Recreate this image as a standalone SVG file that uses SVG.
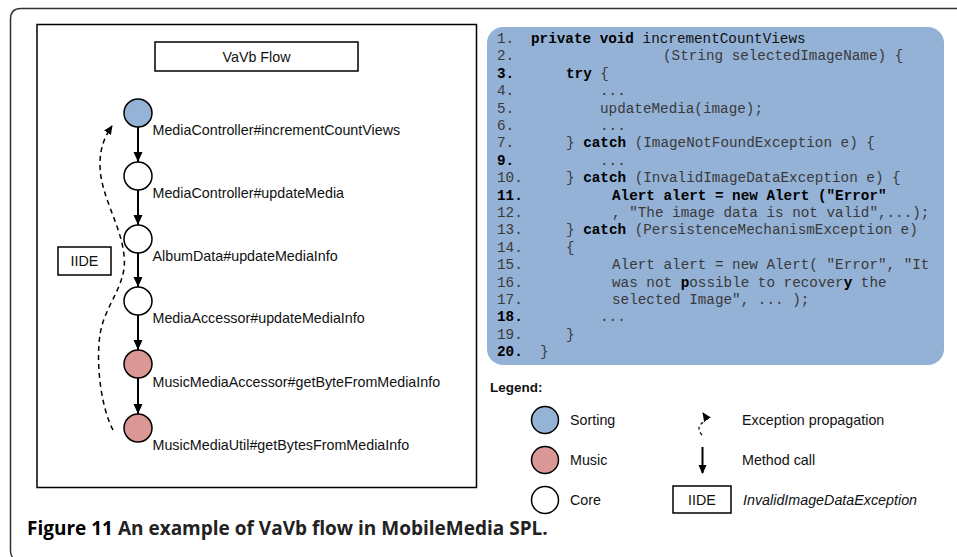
<svg xmlns="http://www.w3.org/2000/svg" width="957" height="557" viewBox="0 0 957 557">
<defs>
<style>
.lbl{font-family:"Liberation Sans",Arial,sans-serif;font-size:14.3px;fill:#111}
.code{font-family:"Liberation Mono","Courier New",monospace;font-size:14.3px;fill:#3a3a3a}
.b{font-weight:bold;fill:#000}
.node{stroke:#000;stroke-width:1.5}
.sort{fill:#95b3d7}
.music{fill:#d99795}
.core{fill:#fff}
.call{stroke:#000;stroke-width:2;fill:none}
.exc{stroke:#000;stroke-width:1.5;fill:none;stroke-dasharray:5,4}
.box{fill:#fff;stroke:#000;stroke-width:1.5}
</style>
<marker id="ah" viewBox="0 0 10 10" markerWidth="10" markerHeight="10" refX="10" refY="5" orient="auto" markerUnits="userSpaceOnUse"><path d="M0,0.5 L10,5 L0,9.5 z" fill="#000"/></marker>
<marker id="ah2" viewBox="0 0 10 10" markerWidth="9" markerHeight="9" refX="9" refY="5" orient="auto" markerUnits="userSpaceOnUse"><path d="M0,0.5 L10,5 L0,9.5 z" fill="#000"/></marker>
</defs>
<rect width="957" height="557" fill="#fff"/>
<path d="M957,8.5 H21 Q10.5,8.5 10.5,19 V550 Q10.5,555 12.5,557" fill="none" stroke="#333" stroke-width="1.5"/>

<!-- Left flow panel -->
<rect x="37" y="24.5" width="439.5" height="463" fill="#fff" stroke="#000" stroke-width="1.5"/>
<g id="title">
<rect class="box" x="155" y="42" width="203" height="29"/>
<text class="lbl" x="256.5" y="61.5" text-anchor="middle">VaVb Flow</text>
</g>

<g id="connectors">
<line class="call" x1="138" y1="127" x2="138" y2="162" marker-end="url(#ah)"/>
<line class="call" x1="138" y1="190" x2="138" y2="225" marker-end="url(#ah)"/>
<line class="call" x1="138" y1="253" x2="138" y2="287" marker-end="url(#ah)"/>
<line class="call" x1="138" y1="315" x2="138" y2="350" marker-end="url(#ah)"/>
<line class="call" x1="138" y1="378" x2="138" y2="414" marker-end="url(#ah)"/>
<path class="exc" d="M113,430 C100,405 96,360 100,335 C104,305 128,285 124,255 C121,225 100,195 100,165 C100,148 104,138 112,126" marker-end="url(#ah2)"/>
</g>

<g id="n1"><circle class="node sort" cx="138" cy="113" r="14"/><text class="lbl" x="152.5" y="135">MediaController#incrementCountViews</text></g>
<g id="n2"><circle class="node core" cx="138" cy="176" r="14"/><text class="lbl" x="152.5" y="198">MediaController#updateMedia</text></g>
<g id="n3"><circle class="node core" cx="138" cy="239" r="14"/><text class="lbl" x="152.5" y="261">AlbumData#updateMediaInfo</text></g>
<g id="n4"><circle class="node core" cx="138" cy="301" r="14"/><text class="lbl" x="152.5" y="323">MediaAccessor#updateMediaInfo</text></g>
<g id="n5"><circle class="node music" cx="138" cy="364" r="14"/><text class="lbl" x="152.5" y="386.5">MusicMediaAccessor#getByteFromMediaInfo</text></g>
<g id="n6"><circle class="node music" cx="138" cy="428" r="14"/><text class="lbl" x="152.5" y="450">MusicMediaUtil#getBytesFromMediaInfo</text></g>

<g id="iide"><rect class="box" x="58" y="247" width="53" height="28"/><text class="lbl" x="84.5" y="266" text-anchor="middle">IIDE</text></g>

<!-- Code panel -->
<g id="code">
<rect x="487" y="27" width="457" height="338" rx="16" ry="16" fill="#94b1d6"/>
<text class="code" x="497" y="43">1.</text><text class="code" x="531" y="43"><tspan class="b">private void</tspan> <tspan fill="#111">incrementCountViews</tspan></text>
<text class="code" x="497" y="60.4">2.</text><text class="code" x="663" y="60.4">(String selectedImageName) {</text>
<text class="code b" x="497" y="77.8">3.</text><text class="code" x="566" y="77.8"><tspan class="b">try</tspan> {</text>
<text class="code" x="497" y="95.2">4.</text><text class="code" x="600" y="95.2">...</text>
<text class="code" x="497" y="112.6">5.</text><text class="code" x="600" y="112.6">updateMedia(image);</text>
<text class="code" x="497" y="130">6.</text><text class="code" x="600" y="130">...</text>
<text class="code" x="497" y="147.3">7.</text><text class="code" x="566" y="147.3">} <tspan class="b">catch</tspan> (ImageNotFoundException e) {</text>
<text class="code b" x="497" y="164.7">9.</text><text class="code" x="600" y="164.7">...</text>
<text class="code" x="497" y="182.1">10.</text><text class="code" x="566" y="182.1">} <tspan class="b">catch</tspan> (InvalidImageDataException e) {</text>
<text class="code b" x="497" y="199.5">11.</text><text class="code b" x="612" y="199.5">Alert alert = new Alert ("Error"</text>
<text class="code" x="497" y="216.9">12.</text><text class="code" x="612" y="216.9">, "The image data is not valid",...);</text>
<text class="code" x="497" y="234.3">13.</text><text class="code" x="566" y="234.3">} <tspan class="b">catch</tspan> (PersistenceMechanismException e)</text>
<text class="code" x="497" y="251.7">14.</text><text class="code" x="566" y="251.7">{</text>
<text class="code" x="497" y="269.1">15.</text><text class="code" x="612" y="269.1">Alert alert = new Alert( "Error", "It</text>
<text class="code" x="497" y="286.5">16.</text><text class="code" x="612" y="286.5">was not <tspan class="b">p</tspan>ossible to recover<tspan class="b">y</tspan> the</text>
<text class="code" x="497" y="303.9">17.</text><text class="code" x="612" y="303.9">selected Image", ... );</text>
<text class="code b" x="497" y="321.2">18.</text><text class="code" x="600" y="321.2">...</text>
<text class="code" x="497" y="338.6">19.</text><text class="code" x="566" y="338.6">}</text>
<text class="code b" x="497" y="356">20.</text><text class="code" x="540" y="356">}</text>
</g>

<!-- Legend -->
<g id="legend">
<text class="lbl" x="490" y="392" style="font-weight:bold;font-size:13.5px">Legend:</text>
<circle class="node sort" cx="545" cy="420" r="13.5"/><text class="lbl" x="570" y="425">Sorting</text>
<circle class="node music" cx="545" cy="460" r="13.5"/><text class="lbl" x="570" y="465">Music</text>
<circle class="node core" cx="545" cy="500" r="13.5"/><text class="lbl" x="570" y="505">Core</text>
<path d="M702,435 C697,429 699,426 702,423 C706,420 705,416 703,413" fill="none" stroke="#000" stroke-width="1.2" stroke-dasharray="3,3" marker-end="url(#ah2)"/>
<text class="lbl" x="742" y="425">Exception propagation</text>
<line class="call" x1="702.5" y1="447" x2="702.5" y2="473" stroke-width="1.5" marker-end="url(#ah2)"/>
<text class="lbl" x="742" y="465">Method call</text>
<rect class="box" x="673" y="486" width="58" height="27"/><text class="lbl" x="702" y="505" text-anchor="middle">IIDE</text>
<text class="lbl" x="743" y="505" font-style="italic">InvalidImageDataException</text>
</g>

<text x="27" y="535" style="font-family:'Open Sans','Noto Sans',sans-serif;font-weight:bold;font-size:19px;fill:#222"><tspan fill="#000">Figure 11</tspan> An example of VaVb flow in MobileMedia SPL.</text>
</svg>
